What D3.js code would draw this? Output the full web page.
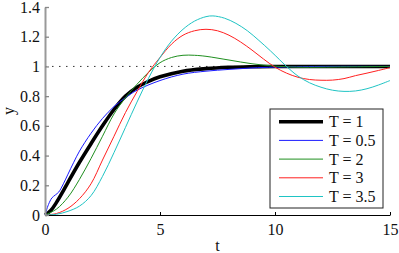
<!DOCTYPE html>
<html>
<head>
<meta charset="utf-8">
<script src="https://cdn.jsdelivr.net/npm/d3@7"></script>
<style>
  body { margin: 0; background: #fff; }
  text { font-family: "Liberation Serif", "Times New Roman", serif; fill: #111; }
</style>
</head>
<body>
<div id="chart"></div>
<script>
// step responses: t values and y values per series
var labels = ["T = 1", "T = 0.5", "T = 2", "T = 3", "T = 3.5"]
var colors = ["#000000", "#1a1aff", "#1f8f1f", "#ff2020", "#1fc4c4"]
var widths = [3.6, 1, 1, 1, 1]

var tT1 = [0, 0.25, 0.5, 0.75, 1, 1.5, 2, 2.5, 3, 3.5, 4, 4.5, 5, 6, 7, 8, 9, 10, 12, 15]
var yT1 = [0, 0.03, 0.085, 0.15, 0.22, 0.355, 0.48, 0.6, 0.71, 0.8, 0.86, 0.9, 0.93, 0.968, 0.985, 0.994, 0.998, 1, 1, 1]

var tT05 = [0, 0.15, 0.3, 0.45, 0.6, 0.8, 1, 1.25, 1.5, 2, 2.5, 3, 3.5, 4, 5, 6, 7, 8, 9, 10, 12, 15]
var yT05 = [0, 0.07, 0.115, 0.135, 0.155, 0.21, 0.275, 0.355, 0.43, 0.55, 0.65, 0.73, 0.79, 0.84, 0.905, 0.948, 0.968, 0.98, 0.99, 0.995, 1, 1]

var tT2 = [0, 0.5, 1, 1.5, 2, 2.5, 3, 3.5, 4, 4.5, 5, 5.5, 6, 6.5, 7, 8, 9, 10, 11, 12, 13, 15]
var yT2 = [0, 0.04, 0.12, 0.24, 0.38, 0.53, 0.68, 0.79, 0.88, 0.96, 1.025, 1.06, 1.075, 1.075, 1.068, 1.043, 1.018, 1.002, 0.995, 0.995, 0.997, 1]

var tT3 = [0, 0.5, 1, 1.5, 2, 2.5, 3, 3.5, 4, 4.5, 5, 5.5, 6, 6.5, 7, 7.5, 8, 8.5, 9, 9.5, 10, 10.5, 11, 11.5, 12, 12.5, 13, 13.5, 14, 14.5, 15]
var yT3 = [0, 0.01, 0.045, 0.11, 0.21, 0.37, 0.53, 0.69, 0.83, 0.96, 1.06, 1.15, 1.21, 1.24, 1.25, 1.24, 1.21, 1.165, 1.11, 1.05, 0.995, 0.955, 0.927, 0.912, 0.907, 0.908, 0.918, 0.938, 0.955, 0.973, 0.992]

var tT35 = [0, 0.5, 1, 1.5, 2, 2.5, 3, 3.5, 4, 4.5, 5, 5.5, 6, 6.5, 7, 7.3, 7.8, 8.3, 8.8, 9.3, 9.8, 10.2, 10.5, 11, 11.5, 12, 12.5, 13, 13.5, 14, 14.5, 15]
var yT35 = [0, 0.005, 0.025, 0.06, 0.13, 0.26, 0.42, 0.59, 0.76, 0.92, 1.06, 1.17, 1.25, 1.305, 1.335, 1.34, 1.325, 1.29, 1.24, 1.175, 1.105, 1.045, 1, 0.935, 0.89, 0.86, 0.84, 0.832, 0.835, 0.85, 0.875, 0.905]

var tSeries = [tT1, tT05, tT2, tT3, tT35]
var ySeries = [yT1, yT05, yT2, yT3, yT35]

var xTicks = [0, 5, 10, 15]
var yTicks = [0, 0.2, 0.4, 0.6, 0.8, 1, 1.2, 1.4]
var refLevel = 1

var W = 399, H = 253
var svg = d3.select('#chart')
  .append('svg')
  .attr('width', W)
  .attr('height', H)

var x = d3.scaleLinear().domain([0, 15]).range([45, 390])
var y = d3.scaleLinear().domain([0, 1.4]).range([215, 7])

// dotted reference line at y = 1
svg.append('line')
  .attr('x1', x(0)).attr('x2', x(15))
  .attr('y1', y(refLevel)).attr('y2', y(refLevel))
  .attr('stroke', '#333')
  .attr('stroke-width', 1)
  .attr('stroke-dasharray', '1.5,5.5')

var line = d3.line()
  .x(function (d) { return x(d[0]) })
  .y(function (d) { return y(d[1]) })
  .curve(d3.curveCatmullRom.alpha(0.5))

tSeries.forEach(function (ts, i) {
  var pts = ts.map(function (t, j) { return [t, ySeries[i][j]] })
  svg.append('path')
    .datum(pts)
    .attr('d', line)
    .attr('fill', 'none')
    .attr('stroke', colors[i])
    .attr('stroke-width', widths[i])
    .attr('stroke-linejoin', 'round')
})

// x axis: black, ticks pointing up
var gx = svg.append('g')
  .attr('transform', 'translate(0,' + y(0) + ')')
  .call(d3.axisBottom(x).tickValues(xTicks).tickSize(-3).tickSizeOuter(0).tickPadding(8.5))
gx.select('.domain').attr('stroke', '#000').attr('stroke-width', 1)
gx.selectAll('.tick line').attr('stroke', '#000')
gx.selectAll('text').attr('font-size', 16).attr('font-family', '"Liberation Serif", serif').attr('fill', '#111')

// y axis: gray, ticks pointing right
var gy = svg.append('g')
  .attr('transform', 'translate(' + x(0) + ',0)')
  .call(d3.axisLeft(y).tickValues(yTicks).tickSize(-4).tickSizeOuter(0).tickPadding(5)
    .tickFormat(function (d) { return +d.toFixed(1) }))
gy.select('.domain').attr('stroke', '#999').attr('stroke-width', 2)
gy.selectAll('.tick line').attr('stroke', '#888').attr('stroke-width', 1.3)
gy.selectAll('text').attr('font-size', 16).attr('font-family', '"Liberation Serif", serif').attr('fill', '#111')

// axis titles
svg.append('text')
  .attr('x', (x(0) + x(15)) / 2)
  .attr('y', 251)
  .attr('text-anchor', 'middle')
  .attr('font-size', 16)
  .text('t')

svg.append('text')
  .attr('transform', 'translate(14,' + y(0.7) + ') rotate(-90)')
  .attr('text-anchor', 'middle')
  .attr('font-size', 16)
  .text('y')

// legend
var lg = svg.append('g').attr('transform', 'translate(270,109)')
lg.append('rect')
  .attr('width', 113).attr('height', 99)
  .attr('fill', '#fff')
  .attr('stroke', '#222')
  .attr('stroke-width', 1)

labels.forEach(function (lab, i) {
  var yy = 12.7 + i * 18.7
  lg.append('line')
    .attr('x1', 9).attr('x2', 53)
    .attr('y1', yy).attr('y2', yy)
    .attr('stroke', colors[i])
    .attr('stroke-width', widths[i])
  lg.append('text')
    .attr('x', 59)
    .attr('y', yy + 5.5)
    .attr('font-size', 16)
    .text(lab)
})
</script>
</body>
</html>
